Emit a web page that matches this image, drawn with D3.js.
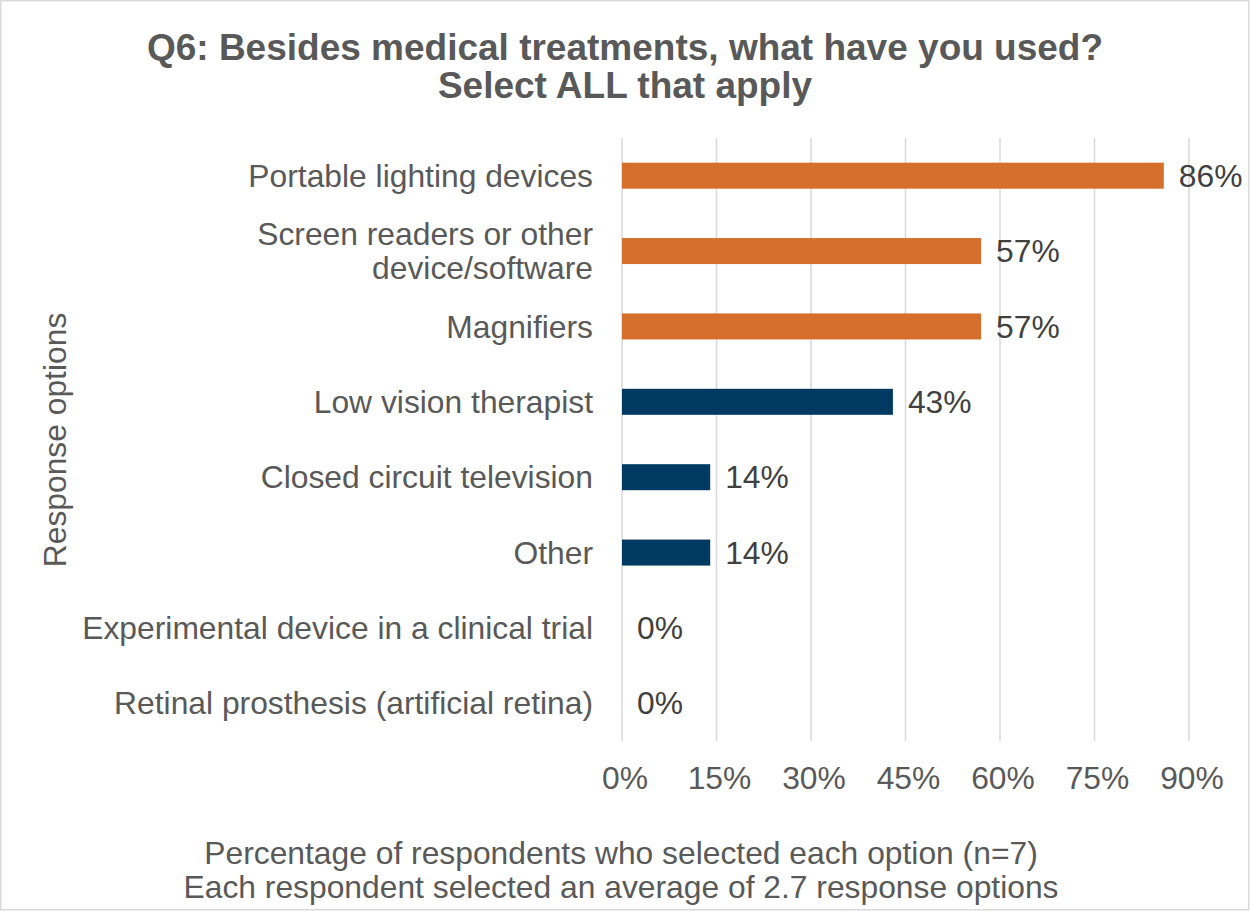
<!DOCTYPE html>
<html><head><meta charset="utf-8">
<script src="https://cdn.jsdelivr.net/npm/d3@7"></script>
<style>body{margin:0;background:#fff}svg{display:block;font-family:"Liberation Sans",Arial,sans-serif}</style>
</head><body>
<svg id="c" width="1250" height="911"></svg>
<script>
const categories = ["Portable lighting devices","Screen readers or other device/software","Magnifiers","Low vision therapist","Closed circuit television","Other","Experimental device in a clinical trial","Retinal prosthesis (artificial retina)"];
const labelLines = [["Portable lighting devices"],["Screen readers or other","device/software"],["Magnifiers"],["Low vision therapist"],["Closed circuit television"],["Other"],["Experimental device in a clinical trial"],["Retinal prosthesis (artificial retina)"]];
const values = [86,57,57,43,14,14,0,0];
const highlight = [true,true,true,false,false,false,false,false];
const ticks = [0,15,30,45,60,75,90];
const titleLines = ["Q6: Besides medical treatments, what have you used?","Select ALL that apply"];
const xTitleLines = ["Percentage of respondents who selected each option (n=7)","Each respondent selected an average of 2.7 response options"];
const yTitle = "Response options";

const svg = d3.select("#c");
const W=1250,H=911;
const textCol="#595959";
const fs=31.8;
svg.append("rect").attr("x",0.75).attr("y",0.75).attr("width",W-2).attr("height",H-2).attr("fill","#fff").attr("stroke","#D9D9D9").attr("stroke-width",1.5);

const x = d3.scaleLinear().domain([0,90]).range([622,1189]);
const y = d3.scaleBand().domain(categories).range([138,741]).paddingInner(0.655).paddingOuter(0.3275);

// gridlines
svg.append("g").selectAll("line").data(ticks).join("line")
 .attr("x1",d=>x(d)).attr("x2",d=>x(d)).attr("y1",138).attr("y2",741)
 .attr("stroke","#D9D9D9").attr("stroke-width",1.5);

// bars
svg.append("g").selectAll("rect").data(categories).join("rect")
 .attr("x",x(0)).attr("y",d=>y(d)).attr("height",y.bandwidth())
 .attr("width",(d,i)=>x(values[i])-x(0))
 .attr("fill",(d,i)=>highlight[i]?"#D66E2C":"#003A63");

// value labels
svg.append("g").selectAll("text").data(categories).join("text")
 .attr("x",(d,i)=>x(values[i])+15).attr("y",d=>y(d)+y.bandwidth()/2)
 .attr("dy","0.35em").attr("font-size",fs).attr("fill","#404040")
 .text((d,i)=>values[i]+"%");

// category labels
const cl = svg.append("g").selectAll("text").data(categories).join("text")
 .attr("text-anchor","end").attr("font-size",fs).attr("fill",textCol)
 .attr("x",593).attr("y",d=>y(d)+y.bandwidth()/2);
cl.each(function(d,i){
  const lines=labelLines[i]; const n=lines.length; const lh=34;
  d3.select(this).selectAll("tspan").data(lines).join("tspan")
   .attr("x",593).attr("y",(l,j)=>y(d)+y.bandwidth()/2+(j-(n-1)/2)*lh).attr("dy","0.35em").text(l=>l);
});

// x tick labels
svg.append("g").selectAll("text").data(ticks).join("text")
 .attr("x",d=>x(d)+3).attr("y",778).attr("dy","0.35em").attr("text-anchor","middle")
 .attr("font-size",fs).attr("fill",textCol).text(d=>d+"%");

// title
svg.append("g").selectAll("text").data(titleLines).join("text")
 .attr("x",625).attr("y",(d,i)=>47+i*38).attr("dy","0.35em").attr("text-anchor","middle")
 .attr("font-size",37).attr("font-weight","bold").attr("fill",textCol).text(d=>d);

// x title
svg.append("g").selectAll("text").data(xTitleLines).join("text")
 .attr("x",621).attr("y",(d,i)=>853+i*34).attr("dy","0.35em").attr("text-anchor","middle")
 .attr("font-size",fs).attr("fill",textCol).text(d=>d);

// y title
svg.append("text").attr("transform","translate(55,440) rotate(-90)").attr("dy","0.35em")
 .attr("text-anchor","middle").attr("font-size",fs).attr("fill",textCol).text(yTitle);
</script>
</body></html>
